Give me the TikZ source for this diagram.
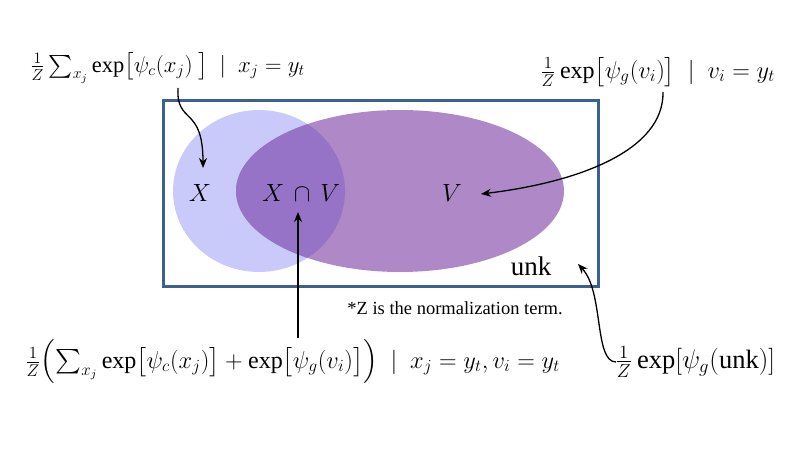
\documentclass[tikz,border=0pt]{standalone}
\usepackage{amsmath}
\usepackage{graphicx}
\usepackage{fontspec}
\setmainfont{Liberation Serif}
\usetikzlibrary{shapes.geometric,arrows.meta}
\definecolor{boxblue}{RGB}{60,96,145}
\definecolor{xfill}{RGB}{202,202,250}
\definecolor{vfill}{RGB}{174,136,199}
\definecolor{ovfill}{RGB}{151,115,200}
\tikzset{
  arr/.style={line width=1.3pt,-{Stealth[length=10pt,width=8pt]}},
  setlbl/.style={font=\fontsize{24}{28}\selectfont},
  formula/.style={font=\fontsize{17}{20}\selectfont,inner sep=0pt},
}
\begin{document}
\begin{tikzpicture}[x=1pt,y=-1pt]
\useasboundingbox (0,0) rectangle (789,454);
% sets
\node[ellipse,fill=xfill,minimum width=172pt,minimum height=162pt,inner sep=0pt] (Xs) at (259,191) {};
\node[ellipse,fill=vfill,minimum width=328pt,minimum height=162pt,inner sep=0pt] (Vs) at (400,191) {};
\begin{scope}
  \clip (259,191) ellipse [x radius=86pt,y radius=81pt];
  \fill[ovfill] (400,191) ellipse [x radius=164pt,y radius=81pt];
\end{scope}
\node[draw=boxblue,line width=3pt,minimum width=435pt,minimum height=185pt,inner sep=0pt] (U) at (380.5,193.5) {};
% labels
\node[setlbl] (lX) at (200,193) {$X$};
\node[setlbl] (lXV) at (301,193) {$X\,\cap\, V$};
\node[setlbl] (lV) at (452,193) {$V$};
\node[font=\fontsize{27}{30}\selectfont] (lunk) at (531,266) {unk};
\node[font=\fontsize{18.5}{21}\selectfont,inner sep=0pt] (note) at (455,308) {*Z is the normalization term.};
% formulas
\node[formula] (f1) at (167.5,68) {\resizebox{275pt}{!}{$\tfrac{1}{Z}\sum_{x_j}\exp\bigl[\psi_c(x_j)\ \bigr]\ \mid\ x_j=y_t$}};
\node[formula] (f2) at (657.5,72) {\resizebox{235pt}{!}{$\tfrac{1}{Z}\exp\bigl[\psi_g(v_i)\bigr]\ \mid\ v_i=y_t$}};
\node[formula] (f3) at (292.5,362) {\resizebox{535pt}{!}{$\tfrac{1}{Z}\Bigl(\sum_{x_j}\exp\bigl[\psi_c(x_j)\bigr]+\exp\bigl[\psi_g(v_i)\bigr]\Bigr)\ \mid\ x_j=y_t,v_i=y_t$}};
\node[formula] (f4) at (695,362) {\resizebox{160pt}{!}{$\tfrac{1}{Z}\exp[\psi_g(\mathrm{unk})]$}};
% connector ends
\coordinate (s1) at (178,88);
\coordinate (t1) at (203,168);
\coordinate (s2) at (663,92);
\coordinate (t2) at (481,194);
\coordinate (t3) at (298,212);
\coordinate (s4) at (616,362);
\coordinate (t4) at (578,264);
% connectors
\draw[arr] (s1) .. controls (176,125) and (203,105) .. (t1);
\draw[arr] (s2) .. controls (664,150) and (580,182) .. (t2);
\draw[arr] ([yshift=2pt]t3 |- f3.north) -- (t3);
\draw[arr] (s4) .. controls (594,362) and (604,292) .. (t4);
\end{tikzpicture}
\end{document}
